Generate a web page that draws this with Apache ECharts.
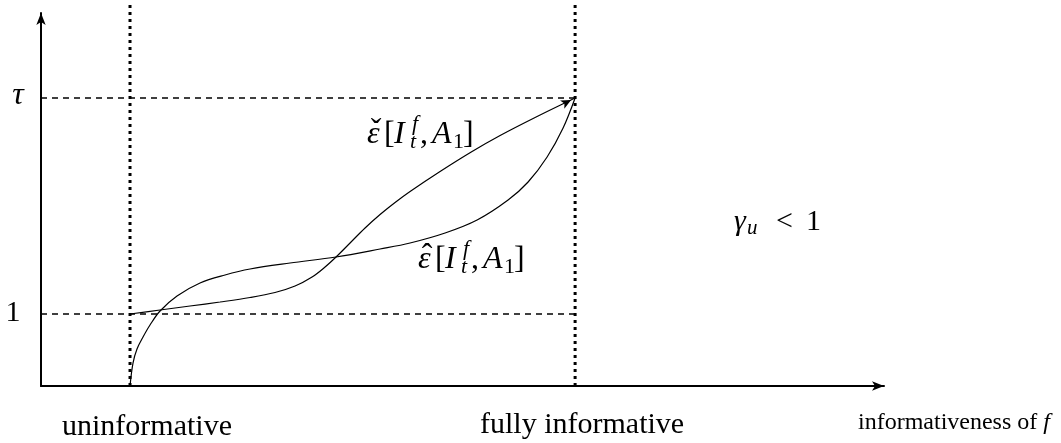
<!DOCTYPE html>
<html><head><meta charset="utf-8">
<script src="https://cdn.jsdelivr.net/npm/echarts@6/dist/echarts.min.js"></script>
<style>html,body{margin:0;padding:0;background:#fff}#c{width:1061px;height:443px}</style>
</head><body><div id="c"></div>
<script>
// ---------- data ----------
const xBounds = [-0.2, 1.694];          // axis range (0 = uninformative, 1 = fully informative)
const yBounds = [0.6667, 2.3935];       // axis range (1 and tau = 2)
const guideX = [0, 1];                  // dotted verticals
const guideTop = 2.44;                  // dotted verticals reach slightly above the axis top
const levelY = [1, 2];                  // dashed levels: 1 and tau
const levelLabels = ['1', 'τ'];
const epsHat = [
  [0, 0.6667], [0.0067, 0.7731], [0.0157, 0.838], [0.0292, 0.8935], [0.0449, 0.9491],
  [0.0674, 1.0139], [0.1056, 1.0833], [0.1573, 1.1435], [0.2135, 1.1806], [0.2697, 1.2083],
  [0.3596, 1.2361], [0.4629, 1.2639], [0.5618, 1.3009], [0.6292, 1.3287], [0.7079, 1.375],
  [0.7798, 1.4352], [0.8494, 1.5278], [0.8944, 1.6111], [0.9371, 1.7269], [0.973, 1.8611], [1, 2]
];
const epsCheck = [
  [0, 1], [0.0674, 1.0185], [0.1348, 1.037], [0.2022, 1.0556], [0.2697, 1.0764],
  [0.3258, 1.0995], [0.3708, 1.1296], [0.409, 1.1713], [0.4382, 1.2176], [0.4629, 1.2639],
  [0.4944, 1.3287], [0.5281, 1.3981], [0.5618, 1.4606], [0.5955, 1.5162], [0.6292, 1.5671],
  [0.6966, 1.6597], [0.7685, 1.7523], [0.8315, 1.8264], [0.9146, 1.9144], [1, 2]
];
const xLabels = ['uninformative', 'fully informative'];
const xTitle = 'informativeness of ';
const xTitleVar = 'f';

// ---------- helpers ----------
const SERIF = '"Liberation Serif", "Times New Roman", serif';
const fnt = (s, it) => (it ? 'italic ' : '') + s + 'px ' + SERIF;
const mctx = document.createElement('canvas').getContext('2d');
const tw = (t, s, it) => { mctx.font = fnt(s, it); return mctx.measureText(t).width; };
function txt(t, x, base, s, it, align) {
  return {
    type: 'text', silent: true, z: 100,
    style: {
      text: t, x: x, y: base - 0.3375 * s, font: fnt(s, it), fill: '#000',
      align: align || 'left', textAlign: align || 'left',
      verticalAlign: 'middle', textVerticalAlign: 'middle'
    }
  };
}
// eps-accent [ I_t^f , A_1 ]
function epsLabel(x0, base, accent) {
  const S = 32, s = 22, out = [];
  out.push(txt('ε', x0, base, S, true));
  out.push(txt(accent, x0 + 9, base - 3, S, false, 'center'));
  out.push(txt('[', x0 + 17, base, S, false));
  out.push(txt('I', x0 + 27, base, S, true));
  out.push(txt('f', x0 + 45, base - 13, s, true));
  out.push(txt('t', x0 + 43, base + 5, s, true));
  out.push(txt(',', x0 + 53, base, S, false));
  out.push(txt('A', x0 + 65, base, S, true));
  out.push(txt('1', x0 + 86, base + 5, s, false));
  out.push(txt(']', x0 + 96, base, S, false));
  return out;
}

const chart = echarts.init(document.getElementById('c'), null, { renderer: 'canvas' });

const axisCommon = {
  type: 'value', splitLine: { show: false }, axisTick: { show: false }, axisLabel: { show: false },
  axisLine: { show: true, onZero: false, symbol: ['none', 'arrow'], symbolSize: [7, 12],
    lineStyle: { color: '#000', width: 2 } }
};

const series = [];
guideX.forEach(gx => series.push({
  type: 'line', data: [[gx, yBounds[0]], [gx, guideTop]], symbol: 'none', clip: false, silent: true,
  lineStyle: { color: '#000', width: 3, type: [3, 4] }, z: 1
}));
levelY.forEach(ly => series.push({
  type: 'line', data: [[xBounds[0], ly], [guideX[1], ly]], symbol: 'none', silent: true,
  lineStyle: { color: '#000', width: 1.3, type: [6, 5] }, z: 1
}));
series.push({
  type: 'line', data: epsHat, symbol: 'none', smooth: 0.35, silent: true,
  lineStyle: { color: '#000', width: 1.2 }, z: 3
});
const last = epsCheck[epsCheck.length - 1];
series.push({
  type: 'line', data: epsCheck, symbol: 'none', smooth: 0.35, silent: true,
  lineStyle: { color: '#000', width: 1.2 }, z: 3,
  markPoint: {
    silent: true, symbol: 'arrow', symbolSize: [7, 10], symbolRotate: -63, symbolOffset: [-4, 2],
    itemStyle: { color: '#000' }, label: { show: false },
    data: [{ coord: last }]
  }
});

chart.setOption({
  animation: false,
  backgroundColor: '#fff',
  grid: { left: 41, right: 177, top: 13, bottom: 57, containLabel: false },
  xAxis: Object.assign({}, axisCommon, { min: xBounds[0], max: xBounds[1] }),
  yAxis: Object.assign({}, axisCommon, { min: yBounds[0], max: yBounds[1] }),
  series: series
});

// ---------- annotation text ----------
const P = (x, y) => chart.convertToPixel({ gridIndex: 0 }, [x, y]);
const g = [];
const p1 = P(0, levelY[0]), pT = P(0, levelY[1]);
g.push(txt(levelLabels[0], 13, p1[1] + 9, 30, false, 'center'));
g.push(txt(levelLabels[1], 18, pT[1] + 8, 32, true, 'center'));
g.push(txt(xLabels[0], 62, 437, 30, false));
g.push(txt(xLabels[1], 480, 435, 30, false));
const tx = 858;
g.push(txt(xTitle, tx, 431, 24, false));
g.push(txt(xTitleVar, tx + tw(xTitle, 24, false), 431, 24, true));
// gamma_u < 1
g.push(txt('γ', 734, 232, 30, true));
g.push(txt('u', 747, 236, 21, true));
g.push(txt('<', 776, 232, 30, false));
g.push(txt('1', 806, 232, 30, false));
// curve labels
epsLabel(367, 145, 'ˇ').forEach(e => g.push(e));
epsLabel(418, 270, 'ˆ').forEach(e => g.push(e));
chart.setOption({ graphic: { elements: g } });
</script>
</body></html>
